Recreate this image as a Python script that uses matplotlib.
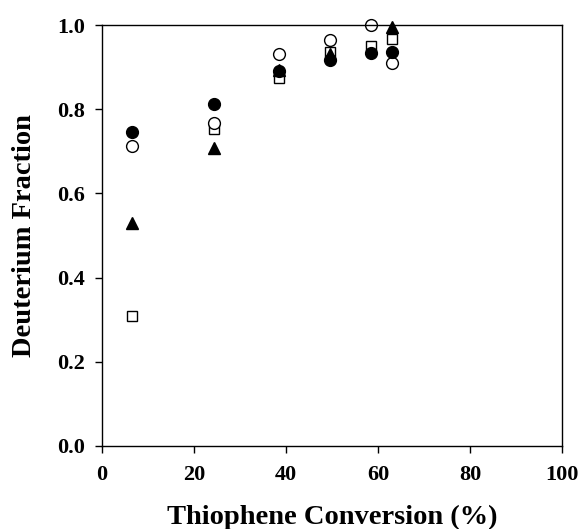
import matplotlib
matplotlib.use("Agg")
import matplotlib.pyplot as plt

plt.rcParams["font.family"] = ["Liberation Serif", "DejaVu Serif"]
plt.rcParams["font.weight"] = "bold"

# conversion (%) of each run
conv = [6.5, 24.3, 38.4, 49.5, 58.5, 63.1]

filled_circle = [0.745, 0.812, 0.891, 0.918, 0.933, 0.937]
open_circle = [0.713, 0.768, 0.930, 0.964, 1.000, 0.909]
open_square = [0.308, 0.753, 0.875, 0.937, 0.950, 0.967]
conv_tri = [6.5, 24.3, 38.4, 49.5, 63.1]
filled_tri = [0.529, 0.709, 0.893, 0.930, 0.995]

fig = plt.figure(figsize=(5.82, 5.29), dpi=100)
ax = fig.add_axes([0.1753, 0.1569, 0.7903, 0.7958])

ax.plot(conv, open_square, "s", mfc="white", mec="black", mew=1.0, ms=7, clip_on=False)
ax.plot(conv, open_circle, "o", mfc="white", mec="black", mew=1.0, ms=8.5, clip_on=False)
ax.plot(conv_tri, filled_tri, "^", color="black", ms=8.5, clip_on=False)
ax.plot(conv, filled_circle, "o", color="black", ms=8.5, clip_on=False)

ax.set_xlim(0, 100)
ax.set_ylim(0, 1.0)
ax.set_xticks([0, 20, 40, 60, 80, 100])
ax.set_yticks([0.0, 0.2, 0.4, 0.6, 0.8, 1.0])
ax.set_yticklabels(["0.0", "0.2", "0.4", "0.6", "0.8", "1.0"])
ax.tick_params(direction="out", length=5, width=1, labelsize=16)
ax.tick_params(axis="x", pad=9)
ax.tick_params(axis="y", pad=7)

for s in ax.spines.values():
    s.set_linewidth(1.0)

ax.set_xlabel("Thiophene Conversion (%)", fontsize=20.5, fontweight="bold")
ax.set_ylabel("Deuterium Fraction", fontsize=20.5, fontweight="bold")
ax.xaxis.set_label_coords(0.5, -0.14)
ax.yaxis.set_label_coords(-0.141, 0.5)

fig.savefig("out.png", dpi=100)
